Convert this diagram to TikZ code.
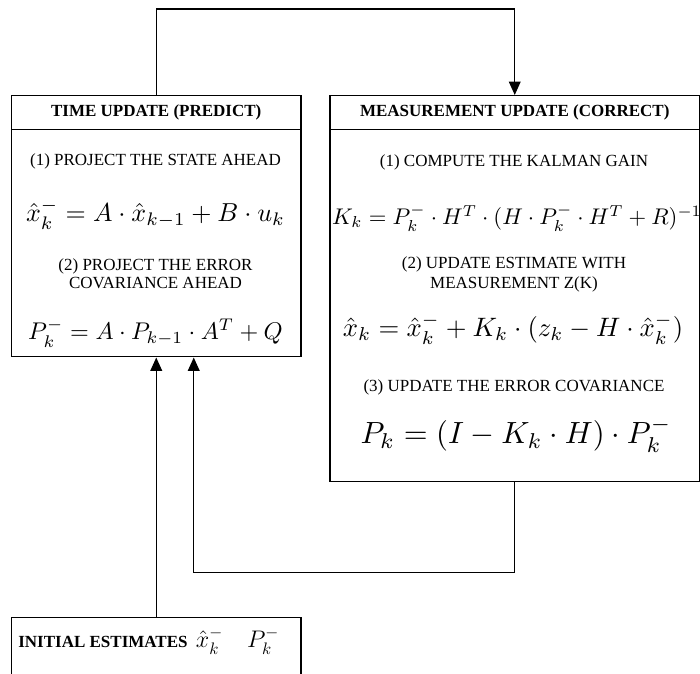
\documentclass[tikz,border=0pt]{standalone}
\usepackage{fontspec}
\setmainfont{Liberation Serif}
\usepackage{amsmath}
\usetikzlibrary{%
	calc,%
	arrows.meta,%
	positioning,%
}
\def\px{0.6pt}
\tikzset{
	>={Triangle[length=8pt,width=7pt]},%
	stage/.style={%
			draw,%
			rectangle,%
			line width=0.9pt,%
			anchor=north west,%
			inner sep=0},%
	stagetitle/.style={%
			font=\fontsize{10.2}{12}\selectfont\bfseries,%
			anchor=north,%
			minimum height=34*\px,%
			inner sep=0},%
	steptext/.style={%
			font=\fontsize{10.2}{11}\selectfont,%
			align=center},%
	eqn/.style={%
			font=\fontsize{10}{12}\selectfont,%
			scale=#1,%
			inner sep=0},%
	eqn/.default=1.5,%
	link/.style={line width=0.8pt},%
}

\begin{document}
\begin{tikzpicture}[x=\px, y=-\px]
	\clip (0,0) rectangle (700,674);

	% time update
	\node[stage, minimum width=289*\px, minimum height=261*\px] (pred) at (11,95) {};
	\node[stagetitle] (predtitle) at (pred.north) {TIME UPDATE (PREDICT)};
	\draw[line width=0.9pt] (predtitle.south -| pred.west) -- (predtitle.south -| pred.east);
	\node[steptext] (predone) at (155.5,161) {(1) PROJECT THE STATE AHEAD};
	\node[eqn=1.56] (predx) at (155.5,214) {$\hat{x}_k^- = A \cdot \hat{x}_{k-1} + B \cdot u_k$};
	\node[steptext] (predtwo) at (155.5,274) {(2) PROJECT THE ERROR\\COVARIANCE AHEAD};
	\node[eqn=1.45] (predp) at (155.5,333) {$P_k^- = A \cdot P_{k-1} \cdot A^T + Q$};

	% measurement update
	\node[stage, minimum width=370*\px, minimum height=386*\px] (corr) at (329,95) {};
	\node[stagetitle] (corrtitle) at (corr.north) {MEASUREMENT UPDATE (CORRECT)};
	\draw[line width=0.9pt] (corrtitle.south -| corr.west) -- (corrtitle.south -| corr.east);
	\node[steptext] (corrone) at (514,162) {(1) COMPUTE THE KALMAN GAIN};
	\node[eqn=1.36] (corrk) at (517,218) {$K_k = P_k^- \cdot H^T \cdot (H \cdot P_k^- \cdot H^T + R)^{-1}$};
	\node[steptext, font=\fontsize{10.2}{12}\selectfont] (corrtwo) at (514,274) {(2) UPDATE ESTIMATE WITH\\MEASUREMENT Z(K)};
	\node[eqn=1.6] (corrx) at (513,329) {$\hat{x}_k = \hat{x}_k^- + K_k \cdot (z_k - H \cdot \hat{x}_k^-)$};
	\node[steptext] (corrthree) at (514,387) {(3) UPDATE THE ERROR COVARIANCE};
	\node[eqn=1.84] (corrp) at (516,435) {$P_k = (I - K_k \cdot H) \cdot P_k^-$};

	% initial estimates
	\node[stage, minimum width=289*\px, minimum height=70*\px] (init) at (11,617) {};
	\node[anchor=west, inner sep=0, font=\fontsize{10.2}{12}\selectfont] (inittext) at (18,641)
		{\textbf{INITIAL ESTIMATES}\hspace{5pt}{\fontsize{14.4}{17}\selectfont$\hat{x}_k^- \quad P_k^-$}};

	% loop
	\draw[link, ->] (pred.north) -- ++(0,-86) -| (corr.north);
	\draw[link, ->] (corr.south) -- ++(0,90) -| ($(pred.south)+(37.5,0)$);
	\draw[link, ->] (init.north) -- (pred.south);
\end{tikzpicture}
\end{document}
